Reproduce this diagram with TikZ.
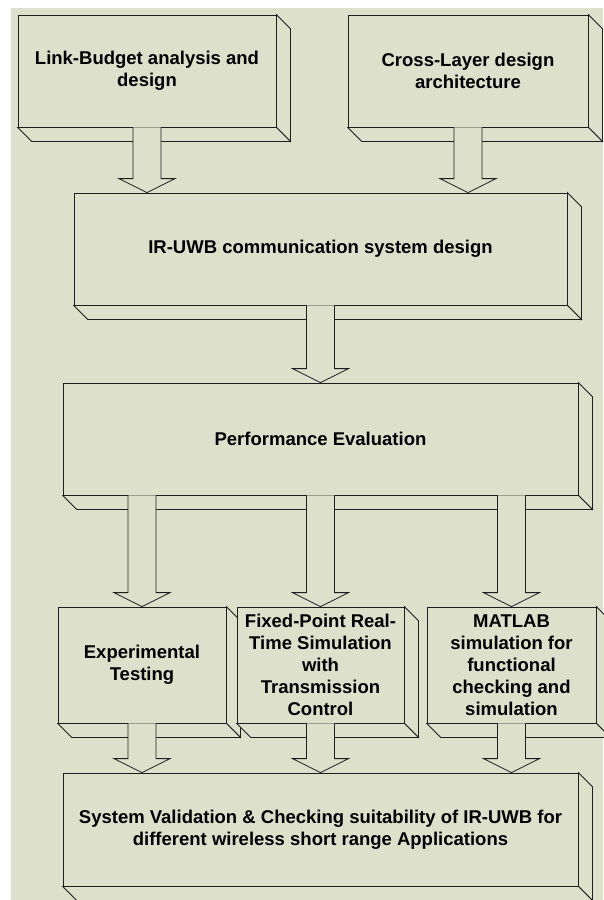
\documentclass[tikz,border=0pt]{standalone}
\usepackage{fontspec}
\setmainfont{Liberation Sans}
\usetikzlibrary{calc}
\definecolor{bgc}{RGB}{221,224,203}
\definecolor{edge}{RGB}{30,30,30}
\tikzset{
  boxface/.style={draw=edge, fill=bgc, line width=0.8pt, line join=miter},
  frontbox/.style={boxface, inner sep=0pt, align=center,
    font=\bfseries\fontsize{18.5}{22}\selectfont},
  fatarr/.style={draw=edge, fill=bgc, line width=0.8pt, line join=miter}
}
\newcommand{\extrude}[1]{%
  \draw[boxface] (#1.north east) -- ([shift={(14pt,-14pt)}]#1.north east)
     -- ([shift={(14pt,-14pt)}]#1.south east) -- (#1.south east) -- cycle;
  \draw[boxface] (#1.south west) -- ([shift={(14pt,-14pt)}]#1.south west)
     -- ([shift={(14pt,-14pt)}]#1.south east) -- (#1.south east) -- cycle;
}
\newcommand{\fatarrow}[2]{%
  \draw[fatarr] let \p1=(#1), \p2=(#2) in
    (\x1-14pt,\y1) -- (\x1-14pt,\y2+14pt) -- (\x1-28pt,\y2+14pt) -- (\x2,\y2)
    -- (\x1+28pt,\y2+14pt) -- (\x1+14pt,\y2+14pt) -- (\x1+14pt,\y1);
}
\begin{document}
\begin{tikzpicture}[x=1pt,y=-1pt]
\useasboundingbox (0,0) rectangle (603,900);
\fill[bgc] (11,8) rectangle (603,900);

% top row
\node[frontbox, minimum width=258pt, minimum height=112pt] (b1) at (147,71) {Link-Budget analysis and\\design};
\extrude{b1}
\node[frontbox, minimum width=240pt, minimum height=112pt] (b2) at (468,71) {Cross-Layer design\\architecture};
\extrude{b2}

% system design
\node[frontbox, minimum width=493pt, minimum height=112pt] (b3) at (320.5,249) {IR-UWB communication system design};
\extrude{b3}

% performance evaluation
\node[frontbox, minimum width=515pt, minimum height=112pt] (b4) at (320.5,439) {Performance Evaluation};
\extrude{b4}

% three methods
\node[frontbox, minimum width=168pt, minimum height=116pt] (b5) at (142,665) {Experimental\\Testing};
\extrude{b5}
\node[frontbox, minimum width=167pt, minimum height=116pt] (b6) at (320.5,665) {Fixed-Point Real-\\Time Simulation\\with\\Transmission\\Control};
\extrude{b6}
\node[frontbox, minimum width=169pt, minimum height=116pt] (b7) at (511.5,665) {MATLAB\\simulation for\\functional\\checking and\\simulation};
\extrude{b7}

% validation
\node[frontbox, minimum width=515pt, minimum height=113pt] (b8) at (320.5,829.5) {System Validation \& Checking suitability of IR-UWB for\\different wireless short range Applications};
\extrude{b8}

% arrows
\fatarrow{b1.south}{b1.south |- b3.north}
\fatarrow{b2.south}{b2.south |- b3.north}
\fatarrow{b3.south}{b3.south |- b4.north}
\fatarrow{b4.south -| b5.north}{b5.north}
\fatarrow{b4.south -| b6.north}{b6.north}
\fatarrow{b4.south -| b7.north}{b7.north}
\fatarrow{b5.south}{b5.south |- b8.north}
\fatarrow{b6.south}{b6.south |- b8.north}
\fatarrow{b7.south}{b7.south |- b8.north}
\end{tikzpicture}
\end{document}
